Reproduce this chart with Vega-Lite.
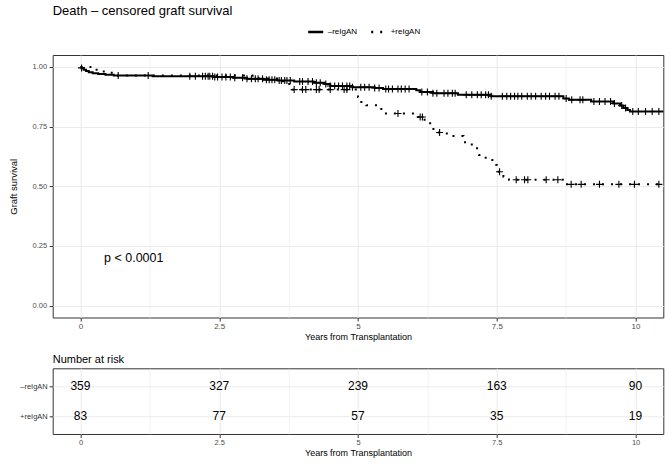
{
  "$schema": "https://vega.github.io/schema/vega-lite/v6.json",
  "background": "white",
  "padding": {"left": 6.7, "top": 4, "right": 5, "bottom": 4},
  "config": {
    "font": "Liberation Sans",
    "view": {"stroke": "#333333", "strokeWidth": 1},
    "axis": {"domain": false, "gridColor": "#ebebeb", "tickColor": "#333333", "labelColor": "#4d4d4d", "titleColor": "#000000", "titleFontWeight": "normal", "labelFont": "Liberation Sans", "titleFont": "Liberation Sans", "labelOverlap": false, "labelFlush": false}
  },
  "datasets": {
    "curves": [
      {"group": "–reIgAN", "t": 0, "s": 1.0},
      {"group": "–reIgAN", "t": 0.02, "s": 0.994},
      {"group": "–reIgAN", "t": 0.06, "s": 0.988},
      {"group": "–reIgAN", "t": 0.1, "s": 0.983},
      {"group": "–reIgAN", "t": 0.15, "s": 0.978},
      {"group": "–reIgAN", "t": 0.22, "s": 0.974},
      {"group": "–reIgAN", "t": 0.32, "s": 0.97},
      {"group": "–reIgAN", "t": 0.45, "s": 0.967},
      {"group": "–reIgAN", "t": 0.6, "s": 0.964},
      {"group": "–reIgAN", "t": 1.3, "s": 0.961},
      {"group": "–reIgAN", "t": 2.4, "s": 0.958},
      {"group": "–reIgAN", "t": 2.75, "s": 0.955},
      {"group": "–reIgAN", "t": 3.0, "s": 0.95},
      {"group": "–reIgAN", "t": 3.3, "s": 0.946},
      {"group": "–reIgAN", "t": 3.55, "s": 0.943},
      {"group": "–reIgAN", "t": 3.85, "s": 0.939},
      {"group": "–reIgAN", "t": 4.2, "s": 0.934},
      {"group": "–reIgAN", "t": 4.4, "s": 0.928},
      {"group": "–reIgAN", "t": 4.5, "s": 0.92},
      {"group": "–reIgAN", "t": 4.9, "s": 0.915},
      {"group": "–reIgAN", "t": 5.3, "s": 0.912},
      {"group": "–reIgAN", "t": 5.45, "s": 0.908},
      {"group": "–reIgAN", "t": 6.05, "s": 0.902},
      {"group": "–reIgAN", "t": 6.12, "s": 0.895},
      {"group": "–reIgAN", "t": 6.35, "s": 0.89},
      {"group": "–reIgAN", "t": 6.8, "s": 0.883},
      {"group": "–reIgAN", "t": 7.4, "s": 0.877},
      {"group": "–reIgAN", "t": 8.7, "s": 0.868},
      {"group": "–reIgAN", "t": 8.8, "s": 0.862},
      {"group": "–reIgAN", "t": 9.2, "s": 0.855},
      {"group": "–reIgAN", "t": 9.6, "s": 0.847},
      {"group": "–reIgAN", "t": 9.72, "s": 0.838},
      {"group": "–reIgAN", "t": 9.78, "s": 0.828},
      {"group": "–reIgAN", "t": 9.85, "s": 0.82},
      {"group": "–reIgAN", "t": 9.9, "s": 0.813},
      {"group": "–reIgAN", "t": 10.5, "s": 0.813},
      {"group": "+reIgAN", "t": 0, "s": 1.0},
      {"group": "+reIgAN", "t": 0.2, "s": 0.988},
      {"group": "+reIgAN", "t": 0.42, "s": 0.976},
      {"group": "+reIgAN", "t": 0.65, "s": 0.964},
      {"group": "+reIgAN", "t": 3.1, "s": 0.952},
      {"group": "+reIgAN", "t": 3.6, "s": 0.94},
      {"group": "+reIgAN", "t": 3.72, "s": 0.928},
      {"group": "+reIgAN", "t": 3.78, "s": 0.916},
      {"group": "+reIgAN", "t": 3.82, "s": 0.905},
      {"group": "+reIgAN", "t": 5.0, "s": 0.874},
      {"group": "+reIgAN", "t": 5.06, "s": 0.853},
      {"group": "+reIgAN", "t": 5.15, "s": 0.839},
      {"group": "+reIgAN", "t": 5.42, "s": 0.805},
      {"group": "+reIgAN", "t": 6.08, "s": 0.79},
      {"group": "+reIgAN", "t": 6.2, "s": 0.77},
      {"group": "+reIgAN", "t": 6.3, "s": 0.74},
      {"group": "+reIgAN", "t": 6.4, "s": 0.725},
      {"group": "+reIgAN", "t": 6.6, "s": 0.711},
      {"group": "+reIgAN", "t": 6.9, "s": 0.684},
      {"group": "+reIgAN", "t": 7.05, "s": 0.659},
      {"group": "+reIgAN", "t": 7.18, "s": 0.631},
      {"group": "+reIgAN", "t": 7.3, "s": 0.61},
      {"group": "+reIgAN", "t": 7.42, "s": 0.589},
      {"group": "+reIgAN", "t": 7.5, "s": 0.561},
      {"group": "+reIgAN", "t": 7.62, "s": 0.54},
      {"group": "+reIgAN", "t": 7.72, "s": 0.527},
      {"group": "+reIgAN", "t": 8.69, "s": 0.508},
      {"group": "+reIgAN", "t": 10.5, "s": 0.508}
    ],
    "censors": [
      {"group": "–reIgAN", "t": 0.02, "s": 0.996},
      {"group": "–reIgAN", "t": 0.68, "s": 0.964},
      {"group": "–reIgAN", "t": 1.22, "s": 0.964},
      {"group": "–reIgAN", "t": 1.97, "s": 0.961},
      {"group": "–reIgAN", "t": 2.07, "s": 0.961},
      {"group": "–reIgAN", "t": 2.2, "s": 0.961},
      {"group": "–reIgAN", "t": 2.25, "s": 0.961},
      {"group": "–reIgAN", "t": 2.3, "s": 0.961},
      {"group": "–reIgAN", "t": 2.33, "s": 0.961},
      {"group": "–reIgAN", "t": 2.38, "s": 0.961},
      {"group": "–reIgAN", "t": 2.42, "s": 0.958},
      {"group": "–reIgAN", "t": 2.47, "s": 0.958},
      {"group": "–reIgAN", "t": 2.55, "s": 0.958},
      {"group": "–reIgAN", "t": 2.62, "s": 0.958},
      {"group": "–reIgAN", "t": 2.7, "s": 0.958},
      {"group": "–reIgAN", "t": 2.78, "s": 0.955},
      {"group": "–reIgAN", "t": 2.92, "s": 0.955},
      {"group": "–reIgAN", "t": 3.0, "s": 0.95},
      {"group": "–reIgAN", "t": 3.08, "s": 0.95},
      {"group": "–reIgAN", "t": 3.15, "s": 0.95},
      {"group": "–reIgAN", "t": 3.2, "s": 0.95},
      {"group": "–reIgAN", "t": 3.28, "s": 0.95},
      {"group": "–reIgAN", "t": 3.35, "s": 0.946},
      {"group": "–reIgAN", "t": 3.4, "s": 0.946},
      {"group": "–reIgAN", "t": 3.45, "s": 0.946},
      {"group": "–reIgAN", "t": 3.5, "s": 0.946},
      {"group": "–reIgAN", "t": 3.58, "s": 0.943},
      {"group": "–reIgAN", "t": 3.62, "s": 0.943},
      {"group": "–reIgAN", "t": 3.68, "s": 0.943},
      {"group": "–reIgAN", "t": 3.72, "s": 0.943},
      {"group": "–reIgAN", "t": 3.78, "s": 0.943},
      {"group": "–reIgAN", "t": 3.95, "s": 0.939},
      {"group": "–reIgAN", "t": 4.0, "s": 0.939},
      {"group": "–reIgAN", "t": 4.1, "s": 0.939},
      {"group": "–reIgAN", "t": 4.18, "s": 0.939},
      {"group": "–reIgAN", "t": 4.25, "s": 0.934},
      {"group": "–reIgAN", "t": 4.32, "s": 0.934},
      {"group": "–reIgAN", "t": 4.42, "s": 0.928},
      {"group": "–reIgAN", "t": 4.5, "s": 0.92},
      {"group": "–reIgAN", "t": 4.58, "s": 0.92},
      {"group": "–reIgAN", "t": 4.65, "s": 0.92},
      {"group": "–reIgAN", "t": 4.72, "s": 0.92},
      {"group": "–reIgAN", "t": 4.8, "s": 0.92},
      {"group": "–reIgAN", "t": 4.85, "s": 0.92},
      {"group": "–reIgAN", "t": 4.9, "s": 0.915},
      {"group": "–reIgAN", "t": 5.05, "s": 0.915},
      {"group": "–reIgAN", "t": 5.12, "s": 0.915},
      {"group": "–reIgAN", "t": 5.2, "s": 0.915},
      {"group": "–reIgAN", "t": 5.3, "s": 0.912},
      {"group": "–reIgAN", "t": 5.38, "s": 0.912},
      {"group": "–reIgAN", "t": 5.5, "s": 0.908},
      {"group": "–reIgAN", "t": 5.55, "s": 0.908},
      {"group": "–reIgAN", "t": 5.62, "s": 0.908},
      {"group": "–reIgAN", "t": 5.72, "s": 0.908},
      {"group": "–reIgAN", "t": 5.78, "s": 0.908},
      {"group": "–reIgAN", "t": 5.85, "s": 0.908},
      {"group": "–reIgAN", "t": 5.92, "s": 0.908},
      {"group": "–reIgAN", "t": 6.15, "s": 0.895},
      {"group": "–reIgAN", "t": 6.25, "s": 0.895},
      {"group": "–reIgAN", "t": 6.35, "s": 0.89},
      {"group": "–reIgAN", "t": 6.42, "s": 0.89},
      {"group": "–reIgAN", "t": 6.55, "s": 0.89},
      {"group": "–reIgAN", "t": 6.62, "s": 0.89},
      {"group": "–reIgAN", "t": 6.7, "s": 0.89},
      {"group": "–reIgAN", "t": 6.75, "s": 0.89},
      {"group": "–reIgAN", "t": 6.95, "s": 0.883},
      {"group": "–reIgAN", "t": 7.05, "s": 0.883},
      {"group": "–reIgAN", "t": 7.15, "s": 0.883},
      {"group": "–reIgAN", "t": 7.22, "s": 0.883},
      {"group": "–reIgAN", "t": 7.3, "s": 0.883},
      {"group": "–reIgAN", "t": 7.35, "s": 0.883},
      {"group": "–reIgAN", "t": 7.4, "s": 0.877},
      {"group": "–reIgAN", "t": 7.6, "s": 0.877},
      {"group": "–reIgAN", "t": 7.68, "s": 0.877},
      {"group": "–reIgAN", "t": 7.75, "s": 0.877},
      {"group": "–reIgAN", "t": 7.82, "s": 0.877},
      {"group": "–reIgAN", "t": 7.88, "s": 0.877},
      {"group": "–reIgAN", "t": 7.95, "s": 0.877},
      {"group": "–reIgAN", "t": 8.05, "s": 0.877},
      {"group": "–reIgAN", "t": 8.12, "s": 0.877},
      {"group": "–reIgAN", "t": 8.2, "s": 0.877},
      {"group": "–reIgAN", "t": 8.3, "s": 0.877},
      {"group": "–reIgAN", "t": 8.38, "s": 0.877},
      {"group": "–reIgAN", "t": 8.45, "s": 0.877},
      {"group": "–reIgAN", "t": 8.55, "s": 0.877},
      {"group": "–reIgAN", "t": 8.62, "s": 0.877},
      {"group": "–reIgAN", "t": 8.75, "s": 0.868},
      {"group": "–reIgAN", "t": 8.85, "s": 0.862},
      {"group": "–reIgAN", "t": 9.0, "s": 0.862},
      {"group": "–reIgAN", "t": 9.05, "s": 0.862},
      {"group": "–reIgAN", "t": 9.25, "s": 0.855},
      {"group": "–reIgAN", "t": 9.35, "s": 0.855},
      {"group": "–reIgAN", "t": 9.45, "s": 0.855},
      {"group": "–reIgAN", "t": 9.55, "s": 0.855},
      {"group": "–reIgAN", "t": 9.62, "s": 0.847},
      {"group": "–reIgAN", "t": 9.75, "s": 0.838},
      {"group": "–reIgAN", "t": 9.82, "s": 0.828},
      {"group": "–reIgAN", "t": 9.95, "s": 0.813},
      {"group": "–reIgAN", "t": 10.05, "s": 0.813},
      {"group": "–reIgAN", "t": 10.18, "s": 0.813},
      {"group": "–reIgAN", "t": 10.3, "s": 0.813},
      {"group": "–reIgAN", "t": 10.42, "s": 0.813},
      {"group": "+reIgAN", "t": 3.85, "s": 0.905},
      {"group": "+reIgAN", "t": 4.0, "s": 0.905},
      {"group": "+reIgAN", "t": 4.06, "s": 0.905},
      {"group": "+reIgAN", "t": 4.25, "s": 0.905},
      {"group": "+reIgAN", "t": 4.3, "s": 0.905},
      {"group": "+reIgAN", "t": 4.5, "s": 0.905},
      {"group": "+reIgAN", "t": 4.75, "s": 0.905},
      {"group": "+reIgAN", "t": 4.8, "s": 0.905},
      {"group": "+reIgAN", "t": 5.72, "s": 0.805},
      {"group": "+reIgAN", "t": 6.12, "s": 0.79},
      {"group": "+reIgAN", "t": 6.16, "s": 0.79},
      {"group": "+reIgAN", "t": 6.47, "s": 0.725},
      {"group": "+reIgAN", "t": 7.55, "s": 0.561},
      {"group": "+reIgAN", "t": 7.85, "s": 0.527},
      {"group": "+reIgAN", "t": 8.0, "s": 0.527},
      {"group": "+reIgAN", "t": 8.06, "s": 0.527},
      {"group": "+reIgAN", "t": 8.39, "s": 0.527},
      {"group": "+reIgAN", "t": 8.6, "s": 0.527},
      {"group": "+reIgAN", "t": 8.84, "s": 0.508},
      {"group": "+reIgAN", "t": 9.02, "s": 0.508},
      {"group": "+reIgAN", "t": 9.35, "s": 0.508},
      {"group": "+reIgAN", "t": 9.7, "s": 0.508},
      {"group": "+reIgAN", "t": 9.98, "s": 0.508},
      {"group": "+reIgAN", "t": 10.42, "s": 0.508}
    ],
    "pval": [{"t": 0.96, "s": 0.2, "label": "p < 0.0001"}],
    "risk": [
      {"group": "–reIgAN", "t": 0, "n": 359},
      {"group": "–reIgAN", "t": 2.5, "n": 327},
      {"group": "–reIgAN", "t": 5, "n": 239},
      {"group": "–reIgAN", "t": 7.5, "n": 163},
      {"group": "–reIgAN", "t": 10, "n": 90},
      {"group": "+reIgAN", "t": 0, "n": 83},
      {"group": "+reIgAN", "t": 2.5, "n": 77},
      {"group": "+reIgAN", "t": 5, "n": 57},
      {"group": "+reIgAN", "t": 7.5, "n": 35},
      {"group": "+reIgAN", "t": 10, "n": 19}
    ]
  },
  "spacing": 11.3,
  "resolve": {"scale": {"x": "independent", "y": "independent"}},
  "vconcat": [
    {
      "width": 610.6,
      "height": 262.5,
      "title": {"text": "Death – censored graft survival", "anchor": "start", "frame": "group", "fontSize": 13, "fontWeight": "normal", "color": "#000000", "offset": 37},
      "layer": [
        {
          "data": {"name": "curves"},
          "mark": {"type": "line", "interpolate": "step-after", "color": "black", "strokeWidth": 2},
          "encoding": {
            "x": {"field": "t", "type": "quantitative", "scale": {"domain": [-0.5, 10.5], "nice": false, "zero": false},
              "axis": {"values": [0, 1.25, 2.5, 3.75, 5, 6.25, 7.5, 8.75, 10], "labelExpr": "datum.value % 2.5 === 0 ? '' + datum.value : ''", "title": "Years from Transplantation", "titleFontSize": 9, "titlePadding": 2, "labelFontSize": 8, "labelPadding": 1.5, "tickSize": 3.5, "tickOpacity": {"condition": {"test": "datum.value % 2.5 !== 0", "value": 0}, "value": 1}, "grid": true, "gridWidth": {"condition": {"test": "datum.value % 2.5 !== 0", "value": 0.6}, "value": 1.1}}},
            "y": {"field": "s", "type": "quantitative", "scale": {"domain": [-0.05, 1.05], "nice": false, "zero": false},
              "axis": {"values": [0, 0.125, 0.25, 0.375, 0.5, 0.625, 0.75, 0.875, 1], "format": ".2f", "labelExpr": "datum.value % 0.25 === 0 ? datum.label : ''", "title": "Graft survival", "titleFontSize": 9.5, "titlePadding": 14, "labelFontSize": 7.5, "labelPadding": 2.5, "tickSize": 3.5, "tickOpacity": {"condition": {"test": "datum.value % 0.25 !== 0", "value": 0}, "value": 1}, "grid": true, "gridWidth": {"condition": {"test": "datum.value % 0.25 !== 0", "value": 0.6}, "value": 1.1}}},
            "strokeDash": {"field": "group", "type": "nominal", "scale": {"domain": ["–reIgAN", "+reIgAN"], "range": [[1, 0], [2, 7]]},
              "legend": {"title": null, "orient": "none", "legendX": 254, "legendY": -32, "direction": "horizontal", "symbolType": "stroke", "symbolStrokeWidth": 2.5, "symbolSize": 225, "symbolStrokeColor": "black", "labelFontSize": 8, "labelColor": "#000000", "labelOffset": 3, "columnPadding": 8}}
          }
        },
        {
          "data": {"name": "censors"},
          "mark": {"type": "point", "shape": "M-1,0H1M0,-1V1", "filled": false, "color": "black", "strokeWidth": 1.1, "size": 49, "opacity": 1},
          "encoding": {
            "x": {"field": "t", "type": "quantitative"},
            "y": {"field": "s", "type": "quantitative"}
          }
        },
        {
          "data": {"name": "pval"},
          "mark": {"type": "text", "fontSize": 12.5, "align": "center", "baseline": "middle", "color": "black"},
          "encoding": {
            "x": {"field": "t", "type": "quantitative"},
            "y": {"field": "s", "type": "quantitative"},
            "text": {"field": "label", "type": "nominal"}
          }
        }
      ]
    },
    {
      "width": 610.6,
      "height": 65.7,
      "title": {"text": "Number at risk", "anchor": "start", "frame": "group", "fontSize": 11, "fontWeight": "normal", "color": "#000000", "offset": 3},
      "data": {"name": "risk"},
      "mark": {"type": "text", "fontSize": 12, "color": "black", "align": "center", "baseline": "middle"},
      "encoding": {
        "x": {"field": "t", "type": "quantitative", "scale": {"domain": [-0.5, 10.5], "nice": false, "zero": false},
          "axis": {"values": [0, 1.25, 2.5, 3.75, 5, 6.25, 7.5, 8.75, 10], "labelExpr": "datum.value % 2.5 === 0 ? '' + datum.value : ''", "title": "Years from Transplantation", "titleFontSize": 9, "titlePadding": 2, "labelFontSize": 7.5, "labelPadding": 1.5, "tickSize": 3.5, "tickOpacity": {"condition": {"test": "datum.value % 2.5 !== 0", "value": 0}, "value": 1}, "grid": true, "gridWidth": {"condition": {"test": "datum.value % 2.5 !== 0", "value": 0.6}, "value": 1.1}}},
        "y": {"field": "group", "type": "nominal", "scale": {"type": "point", "domain": ["–reIgAN", "+reIgAN"], "padding": 0.6},
          "axis": {"title": null, "labelFontSize": 7.5, "labelColor": "#333333", "labelPadding": 2, "tickSize": 3.5, "grid": true, "gridWidth": 1.1}},
        "text": {"field": "n", "type": "quantitative"}
      }
    }
  ]
}
